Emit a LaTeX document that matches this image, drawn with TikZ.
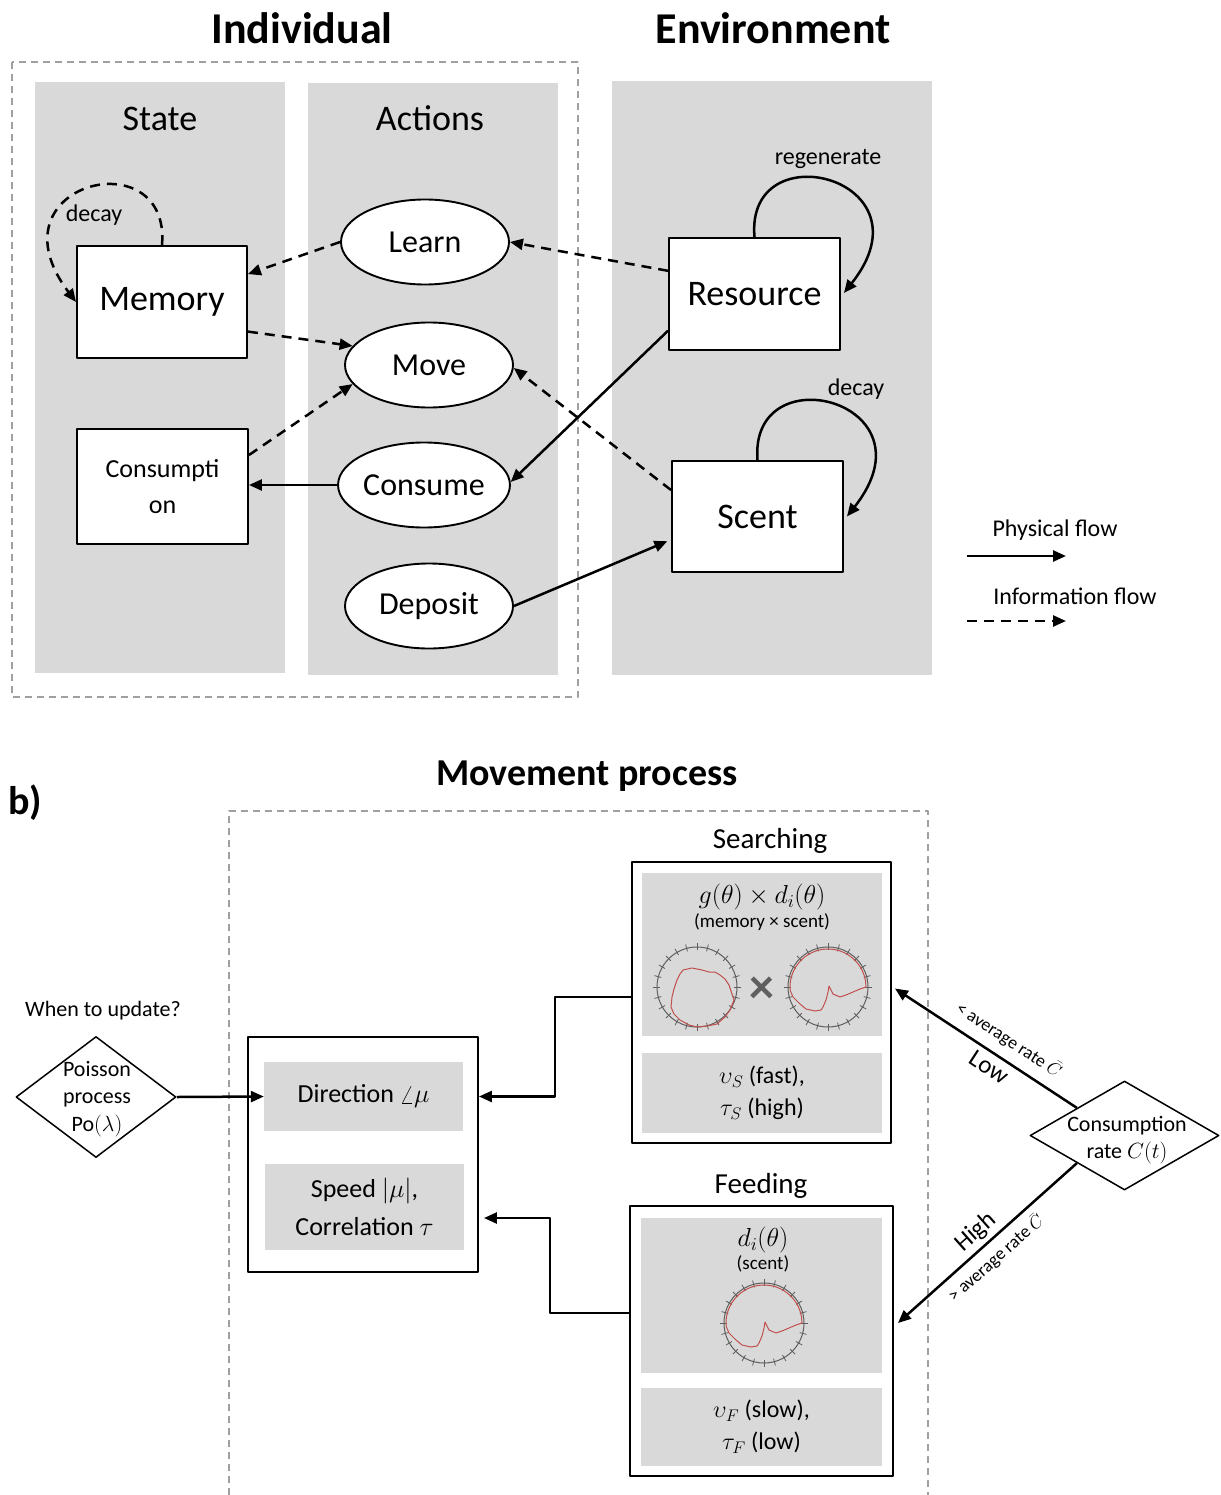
\RequirePackage{fix-cm}
\documentclass[tikz,border=0pt]{standalone}
\usepackage{fontspec}
\setmainfont{Carlito}
\usetikzlibrary{arrows.meta,shapes.geometric,calc}
\definecolor{panel}{HTML}{D9D9D9}
\definecolor{dashgray}{HTML}{A0A0A0}
\definecolor{ringgray}{HTML}{5F5F5F}
\definecolor{curvered}{HTML}{C0504D}
\newcommand\FS[2]{\fontsize{#1}{#2}\selectfont}
\begin{document}
\begin{tikzpicture}[x=1pt,y=1pt,line join=round,
  wbox/.style={draw, line width=1.9pt, fill=white, inner sep=0pt, align=center},
  act/.style={ellipse, draw, line width=1.9pt, fill=white, minimum width=168pt, minimum height=85pt, inner sep=0pt, font=\FS{32}{38}},
  phys/.style={line width=2.5pt, -{Triangle[length=13pt,width=11pt]}},
  info/.style={phys, dash pattern=on 10pt off 7pt},
  gdash/.style={draw=dashgray, line width=1.3pt, dash pattern=on 7pt off 5pt},
  gpanel/.style={fill=panel, inner sep=0pt, align=center},
  ttl/.style={font=\bfseries\FS{44}{52}},
  hdr/.style={font=\FS{36}{43}},
  lbl/.style={font=\FS{24}{29}},
  polarring/.pic={
    \draw[ringgray, line width=1pt] (0,0) circle[radius=40];
    \foreach \a in {0,15,...,345}{\draw[ringgray, line width=0.8pt] (\a:37) -- (\a:44);}
  },
  memcurve/.pic={
    \draw[curvered, line width=1pt] plot coordinates {(-14,17) (-5,19) (0,18) (5,17) (12,15) (18,15) (23,12) (28,8) (32,2) (35,-7) (37,-13) (33,-23) (28,-30) (20,-37) (10,-39) (0,-40) (-8,-38) (-17,-33) (-23,-27) (-26,-20) (-25,-10) (-23,-2) (-20,7) (-17,13) (-14,17)};
  },
  scentcurve/.pic={
    \draw[curvered, line width=1pt] (185:38) arc[start angle=185, end angle=0, radius=38]
      -- (32,-2) -- (25,-5) -- (18,-8) -- (12,-10) -- (5,-7) -- (1,1) -- (0,-5) -- (-2,-13) -- (-5,-20) -- (-7,-23) -- (-13,-24) -- (-22,-22) -- (-28,-17) -- (-35,-10) -- cycle;
  },
]
\useasboundingbox (0,0) rectangle (1220,-1495);

% ---------------- part a ----------------
\fill[panel] (35,-82) rectangle (285,-673);
\fill[panel] (308,-83) rectangle (558,-675);
\fill[panel] (612,-81) rectangle (932,-675);
\draw[gdash] (12,-62) rectangle (578,-697);

\node[ttl] (tInd) at (302,-28) {Individual};
\node[ttl] (tEnv) at (773,-28) {Environment};
\node[hdr] (tState) at (160,-119) {State};
\node[hdr] (tAct) at (430,-118) {Actions};

\node[wbox, minimum width=170pt, minimum height=112pt, font=\FS{36}{43}] (mem) at (162,-302) {Memory};
\node[wbox, minimum width=171pt, minimum height=115pt, font=\FS{26}{36}] (cons) at (162.5,-486.5) {Consumpti\\on};
\node[wbox, minimum width=171pt, minimum height=112pt, font=\FS{36}{43}] (res) at (754.5,-294) {Resource};
\node[wbox, minimum width=171pt, minimum height=111pt, font=\FS{36}{43}] (scent) at (757.5,-516.5) {Scent};

\node[act] (learn) at (425,-242) {Learn};
\node[act] (move) at (429,-365) {Move};
\node[act] (consume) at (424,-485) {Consume};
\node[act] (deposit) at (429,-606) {Deposit};

% self loops
\draw[info] (mem.north) .. controls (171,-138) and (-14,-183) .. (mem.west);
\node[lbl] (ldecay1) at (94,-215) {decay};
\draw[phys] (res.north) .. controls (745,-130) and (935,-178) .. ($(res.east)+(3,1)$);
\node[lbl] (lregen) at (828,-159) {regenerate};
\draw[phys] (scent.north) .. controls (749,-353) and (938,-401) .. ($(scent.east)+(3,0)$);
\node[lbl] (ldecay2) at (856,-389) {decay};

% connectors
\draw[info] (res.165) -- (learn.east);
\draw[info] (learn.west) -- (mem.18);
\draw[info] (mem.-19) -- (move.166);
\draw[info] (cons.20) -- (move.194);
\draw[info] (scent.163) -- (move.-2);
\draw[phys] (res.203) -- (consume.2);
\draw[phys] (consume.west) -- (cons.east |- consume.west);
\draw[phys, shorten >=4pt] (deposit.east) -- (scent.195);

% legend
\node[lbl] (lphys) at (1055,-530) {Physical flow};
\coordinate (lp1) at (967,-556);
\coordinate (lp2) at (1066,-556);
\draw[phys] (lp1) -- (lp2);
\node[lbl] (linfo) at (1075,-596) {Information flow};
\coordinate (li1) at (967,-621);
\coordinate (li2) at (1066,-621);
\draw[info] (li1) -- (li2);

% ---------------- part b ----------------
\node[font=\bfseries\FS{40}{48}] (blab) at (25,-803) {b)};
\node[font=\bfseries\FS{38}{46}] (tMove) at (587,-776) {Movement process};
\draw[gdash] (229,-1495) -- (229,-811) -- (928,-811) -- (928,-1495);

% Searching
\node[font=\FS{29}{35}] (tSearch) at (770,-841) {Searching};
\node[wbox, minimum width=259pt, minimum height=281pt] (sbox) at (761.5,-1002.5) {};
\node[gpanel, minimum width=240pt, minimum height=163pt] (sp1) at (762,-954.5) {};
\node[font=\FS{26}{30}] (sform) at (762,-897) {$g(\theta)\times d_i(\theta)$};
\node[font=\FS{19}{22}] (ssub) at (762,-922) {(memory × scent)};
\pic at (697,-987) {polarring};
\pic at (697,-987) {memcurve};
\pic at (828,-987) {polarring};
\pic at (828,-987) {scentcurve};
\node[text=ringgray, font=\bfseries\FS{50}{50}] (stimes) at (762,-990) {×};
\node[gpanel, minimum width=240pt, minimum height=80pt, font=\FS{24}{32}] (sp2) at (762,-1093) {$\upsilon_S$ (fast),\\$\tau_S$ (high)};

% Feeding
\node[font=\FS{29}{35}] (tFeed) at (761,-1186) {Feeding};
\node[wbox, minimum width=263pt, minimum height=270pt] (fbox) at (761.5,-1341) {};
\node[gpanel, minimum width=241pt, minimum height=155pt] (fp1) at (761.5,-1295.5) {};
\node[font=\FS{26}{30}] (fform) at (763,-1240) {$d_i(\theta)$};
\node[font=\FS{19}{22}] (fsub) at (763,-1264) {(scent)};
\pic at (764,-1323) {polarring};
\pic at (764,-1323) {scentcurve};
\node[gpanel, minimum width=241pt, minimum height=78pt, font=\FS{24}{32}] (fp2) at (761.5,-1427) {$\upsilon_F$ (slow),\\$\tau_F$ (low)};

% movement parameters
\node[wbox, minimum width=230pt, minimum height=235pt] (lbox) at (363,-1154.5) {};
\node[gpanel, minimum width=199pt, minimum height=69pt, font=\FS{26}{32}] (dirp) at (363.5,-1096.5) {Direction $\angle\mu$};
\node[gpanel, minimum width=199pt, minimum height=86pt, font=\FS{26}{38}] (spdp) at (364.5,-1207) {Speed $|\mu|$,\\Correlation $\tau$};

% Poisson
\node[font=\FS{22}{26}] (twhen) at (103,-1011) {When to update?};
\node[diamond, draw, line width=1.5pt, fill=white, minimum width=160pt, minimum height=121pt, inner sep=0pt] (pois) at (96,-1097) {};
\node[font=\FS{22}{27.5}, align=center] (poistxt) at (97,-1099) {Poisson\\process\\Po$(\lambda)$};

% Consumption rate
\node[diamond, draw, line width=1.5pt, fill=white, minimum width=189pt, minimum height=109pt, inner sep=0pt] (crate) at (1124.5,-1135.5) {};
\node[font=\FS{22}{27}, align=center] (cratetxt) at (1127,-1140) {Consumption\\rate $C(t)$};

% connectors b
\draw[phys] (pois.east) -- (dirp.west);
\draw[phys] ($(sbox.west)+(0,5.5)$) -- ++(-76,0) |- (lbox.east |- dirp.center);
\draw[phys, shorten >=5pt] ($(fbox.west)+(0,28)$) -- ++(-79,0) |- ($(lbox.east)+(0,-63.5)$);
\draw[phys] (crate.north west) -- ($(sbox.east)+(3,14)$);
\draw[phys] (crate.south west) -- ($(fbox.east)+(4,18)$);

\node[font=\FS{18}{22}, rotate=-33] (llow1) at (1009,-1040) {< average rate $\bar C$};
\node[font=\FS{25}{30}, rotate=-33] (llow2) at (989,-1067) {Low};
\node[font=\FS{25}{30}, rotate=41.5] (lhigh1) at (976,-1232) {High};
\node[font=\FS{18}{22}, rotate=41.5] (lhigh2) at (996,-1258) {> average rate $\bar C$};
\end{tikzpicture}
\end{document}
